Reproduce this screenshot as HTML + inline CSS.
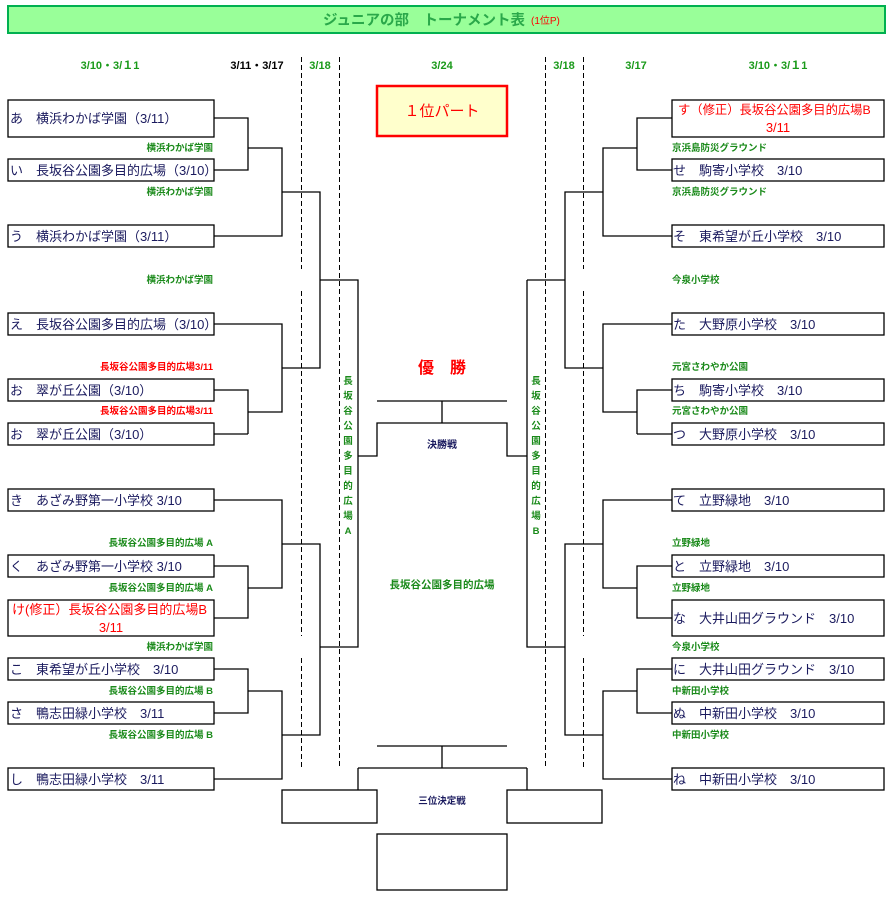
<!DOCTYPE html>
<html><head><meta charset="utf-8"><style>
html,body{margin:0;padding:0;background:#fff;}
svg{display:block;}
text{font-family:"Liberation Sans","Noto Sans CJK JP",sans-serif;}
.b{font-size:13px;fill:#1a1a5e;}
.r{font-size:13px;fill:#ff0000;}
.g{font-size:9.5px;fill:#1a8a1a;font-weight:bold;}
.gr{font-size:9.5px;fill:#ff0000;font-weight:bold;}
.h{font-size:11px;font-weight:bold;fill:#1a9a1a;}
</style></head><body>
<svg width="893" height="901" viewBox="0 0 893 901" xmlns="http://www.w3.org/2000/svg">
<rect x="8" y="6" width="877" height="27" fill="#99ff99" stroke="#00b050" stroke-width="2"/>
<text x="323" y="25" style="font-size:14.5px;fill:#2aa84a;font-weight:bold">ジュニアの部　トーナメント表</text>
<text x="531" y="24" style="font-size:10px;fill:#ff0000">(1位P)</text>

<text class="h" x="110" y="69" text-anchor="middle">3/10・3/１1</text>
<text class="h" x="257" y="69" text-anchor="middle" style="fill:#000">3/11・3/17</text>
<text class="h" x="320" y="69" text-anchor="middle">3/18</text>
<text class="h" x="442" y="69" text-anchor="middle">3/24</text>
<text class="h" x="564" y="69" text-anchor="middle">3/18</text>
<text class="h" x="636" y="69" text-anchor="middle">3/17</text>
<text class="h" x="778" y="69" text-anchor="middle">3/10・3/１1</text>

<g stroke="#000" stroke-width="1" stroke-dasharray="5,3" fill="none">
<line x1="301.5" y1="57" x2="301.5" y2="269"/><line x1="301.5" y1="291" x2="301.5" y2="636"/><line x1="301.5" y1="658" x2="301.5" y2="767"/>
<line x1="339.5" y1="57" x2="339.5" y2="767"/>
<line x1="545.5" y1="57" x2="545.5" y2="767"/>
<line x1="583.5" y1="57" x2="583.5" y2="269"/><line x1="583.5" y1="291" x2="583.5" y2="636"/><line x1="583.5" y1="658" x2="583.5" y2="767"/>
</g>

<rect x="377" y="86" width="130" height="50" fill="#ffffcc" stroke="#ff0000" stroke-width="2.5"/>
<text x="442" y="116" text-anchor="middle" style="font-size:15px;fill:#ff0000">１位パート</text>

<g stroke="#000" stroke-width="1.3" fill="none">
<rect x="8" y="100" width="206" height="37"/>
<rect x="8" y="159" width="206" height="22"/>
<rect x="8" y="225" width="206" height="22"/>
<rect x="8" y="313" width="206" height="22"/>
<rect x="8" y="379" width="206" height="22"/>
<rect x="8" y="423" width="206" height="22"/>
<rect x="8" y="489" width="206" height="22"/>
<rect x="8" y="555" width="206" height="22"/>
<rect x="8" y="600" width="206" height="36"/>
<rect x="8" y="658" width="206" height="22"/>
<rect x="8" y="702" width="206" height="22"/>
<rect x="8" y="768" width="206" height="22"/>
<rect x="672" y="100" width="212" height="37"/>
<rect x="672" y="159" width="212" height="22"/>
<rect x="672" y="225" width="212" height="22"/>
<rect x="672" y="313" width="212" height="22"/>
<rect x="672" y="379" width="212" height="22"/>
<rect x="672" y="423" width="212" height="22"/>
<rect x="672" y="489" width="212" height="22"/>
<rect x="672" y="555" width="212" height="22"/>
<rect x="672" y="600" width="212" height="36"/>
<rect x="672" y="658" width="212" height="22"/>
<rect x="672" y="702" width="212" height="22"/>
<rect x="672" y="768" width="212" height="22"/>
<path d="M214 118H248V170H214M248 148H282V236H214M282 192H320V368H282M214 324H282V412H248V390H214M248 434H214M248 434V412"/>
<path d="M214 500H282V588H248V566H214M248 588V618H214M282 544H320V735H282M214 669H248V713H214M248 691H282V779H214"/>
<path d="M320 280H358V647H320M358 456H377V423H507V456H527M527 280H565M527 280V647H565M377 401H507M442 401V423"/>
<path d="M672 118H637V170H672M637 148H603V236H672M603 192H565V368H603M672 324H603V412H637V390H672M637 434H672M637 434V412"/>
<path d="M672 500H603V588H637V566H672M637 588V618H672M603 544H565V735H603M672 669H637V713H672M637 691H603V779H672"/>
<path d="M377 746H507M442 746V768M358 768H527M358 768V790M527 768V790"/>
<rect x="282" y="790" width="95" height="33"/>
<rect x="507" y="790" width="95" height="33"/>
<rect x="377" y="834" width="130" height="56"/>
</g>

<text class="b" x="10" y="123">あ　横浜わかば学園（3/11）</text>
<text class="g" x="213" y="151" text-anchor="end">横浜わかば学園</text>
<text class="b" x="10" y="175">い　長坂谷公園多目的広場（3/10）</text>
<text class="g" x="213" y="195" text-anchor="end">横浜わかば学園</text>
<text class="b" x="10" y="241">う　横浜わかば学園（3/11）</text>
<text class="g" x="213" y="283" text-anchor="end">横浜わかば学園</text>
<text class="b" x="10" y="329">え　長坂谷公園多目的広場（3/10）</text>
<text class="gr" x="213" y="370" text-anchor="end">長坂谷公園多目的広場3/11</text>
<text class="b" x="10" y="395">お　翠が丘公園（3/10）</text>
<text class="gr" x="213" y="414" text-anchor="end">長坂谷公園多目的広場3/11</text>
<text class="b" x="10" y="439">お　翠が丘公園（3/10）</text>
<text class="b" x="10" y="505">き　あざみ野第一小学校 3/10</text>
<text class="g" x="213" y="546" text-anchor="end">長坂谷公園多目的広場 A</text>
<text class="b" x="10" y="571">く　あざみ野第一小学校 3/10</text>
<text class="g" x="213" y="591" text-anchor="end">長坂谷公園多目的広場 A</text>
<text class="r" x="12" y="614">け(修正）長坂谷公園多目的広場B</text>
<text class="r" x="111" y="632" text-anchor="middle">3/11</text>
<text class="g" x="213" y="650" text-anchor="end">横浜わかば学園</text>
<text class="b" x="10" y="674">こ　東希望が丘小学校　3/10</text>
<text class="g" x="213" y="694" text-anchor="end">長坂谷公園多目的広場 B</text>
<text class="b" x="10" y="718">さ　鴨志田緑小学校　3/11</text>
<text class="g" x="213" y="738" text-anchor="end">長坂谷公園多目的広場 B</text>
<text class="b" x="10" y="784">し　鴨志田緑小学校　3/11</text>

<text class="r" x="678" y="114" style="font-size:12.3px">す（修正）長坂谷公園多目的広場B</text>
<text class="r" x="778" y="132" text-anchor="middle">3/11</text>
<text class="g" x="672" y="151">京浜島防災グラウンド</text>
<text class="b" x="673" y="175">せ　駒寄小学校　3/10</text>
<text class="g" x="672" y="195">京浜島防災グラウンド</text>
<text class="b" x="673" y="241">そ　東希望が丘小学校　3/10</text>
<text class="g" x="672" y="283">今泉小学校</text>
<text class="b" x="673" y="329">た　大野原小学校　3/10</text>
<text class="g" x="672" y="370">元宮さわやか公園</text>
<text class="b" x="673" y="395">ち　駒寄小学校　3/10</text>
<text class="g" x="672" y="414">元宮さわやか公園</text>
<text class="b" x="673" y="439">つ　大野原小学校　3/10</text>
<text class="b" x="673" y="505">て　立野緑地　3/10</text>
<text class="g" x="672" y="546">立野緑地</text>
<text class="b" x="673" y="571">と　立野緑地　3/10</text>
<text class="g" x="672" y="591">立野緑地</text>
<text class="b" x="673" y="623">な　大井山田グラウンド　3/10</text>
<text class="g" x="672" y="650">今泉小学校</text>
<text class="b" x="673" y="674">に　大井山田グラウンド　3/10</text>
<text class="g" x="672" y="694">中新田小学校</text>
<text class="b" x="673" y="718">ぬ　中新田小学校　3/10</text>
<text class="g" x="672" y="738">中新田小学校</text>
<text class="b" x="673" y="784">ね　中新田小学校　3/10</text>

<text x="442" y="373" text-anchor="middle" style="font-size:16px;fill:#ff0000;font-weight:bold">優　勝</text>
<text x="442" y="448" text-anchor="middle" style="font-size:10px;fill:#1a1a5e;font-weight:bold">決勝戦</text>
<text x="442" y="588" text-anchor="middle" style="font-size:10.5px;fill:#1a8a1a;font-weight:bold">長坂谷公園多目的広場</text>
<text x="442" y="804" text-anchor="middle" style="font-size:9.5px;fill:#1a1a5e;font-weight:bold">三位決定戦</text>
<g style="font-size:9.5px;fill:#1a8a1a;font-weight:bold" text-anchor="middle">
<text x="348" y="384">長</text><text x="348" y="399">坂</text><text x="348" y="414">谷</text><text x="348" y="429">公</text><text x="348" y="444">園</text><text x="348" y="459">多</text><text x="348" y="474">目</text><text x="348" y="489">的</text><text x="348" y="504">広</text><text x="348" y="519">場</text><text x="348" y="534">A</text>
<text x="536" y="384">長</text><text x="536" y="399">坂</text><text x="536" y="414">谷</text><text x="536" y="429">公</text><text x="536" y="444">園</text><text x="536" y="459">多</text><text x="536" y="474">目</text><text x="536" y="489">的</text><text x="536" y="504">広</text><text x="536" y="519">場</text><text x="536" y="534">B</text>
</g>
</svg>
</body></html>
